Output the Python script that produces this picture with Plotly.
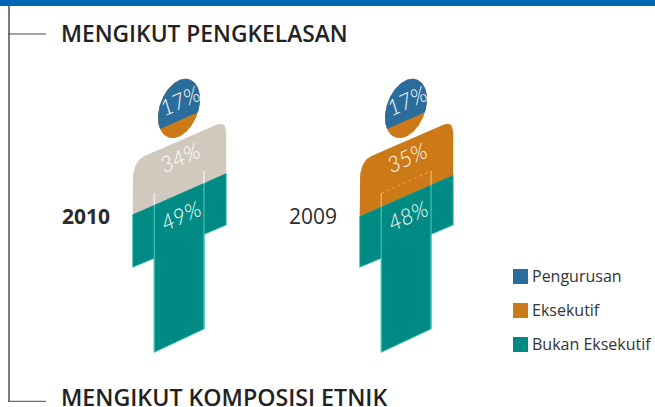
import numpy as np
import plotly.graph_objects as go

# ---- data ----
years = ["2010", "2009"]
pengurusan = [17, 17]
eksekutif = [34, 35]
bukan_eksekutif = [49, 48]
series_names = ["Pengurusan", "Eksekutif", "Bukan Eksekutif"]
titles = ["MENGIKUT PENGKELASAN", "MENGIKUT KOMPOSISI ETNIK"]

# ---- style ----
BLUE, ORANGE, TEAL, SAND = "#2a6c9c", "#cc7a17", "#008a84", "#d1c9bd"
TEAL_EDGE = "#3dbdb6"
torso_colors = [SAND, ORANGE]
seam_colors = ["#f4f1ec", "#f2b26c"]
FONT = "Open Sans"
INK = "#2b2b2b"
SLOPE = -0.44
PANEL_DX = 227.0
PX_PER_POINT = 1.8


def bezier(p0, c, p1, n=12):
    t = np.linspace(0, 1, n)
    x = (1 - t) ** 2 * p0[0] + 2 * t * (1 - t) * c[0] + t ** 2 * p1[0]
    y = (1 - t) ** 2 * p0[1] + 2 * t * (1 - t) * c[1] + t ** 2 * p1[1]
    return list(x), list(y)


def poly(x, y, fill, line=None, lw=0.0):
    return go.Scatter(x=x, y=y, mode="lines", fill="toself", fillcolor=fill,
                      line=dict(color=line or fill, width=lw), hoverinfo="skip", showlegend=False)


def seg(x, y, color, w=1.3, dash="solid"):
    return go.Scatter(x=x, y=y, mode="lines", line=dict(color=color, width=w, dash=dash),
                      hoverinfo="skip", showlegend=False)


fig = go.Figure()
annotations = []

for i, year in enumerate(years):
    dx = i * PANEL_DX
    L, R, il, ir = 132.7 + dx, 226.2 + dx, 154.3 + dx, 204.0 + dx
    split_l = 215.0 + (49 - bukan_eksekutif[i]) * PX_PER_POINT
    split_at = lambda x: split_l + SLOPE * (x - L)

    # head: sheared ellipse
    cx, cy, a, b = 179.0 + dx, 108.5, 21.0, 28.2
    t = np.linspace(0, 2 * np.pi, 160)
    ex, ey = cx + a * np.cos(t), cy + b * np.sin(t) + SLOPE * a * np.cos(t)
    fig.add_trace(poly(ex, ey, ORANGE))
    off = 12.2
    tb = np.linspace(np.pi - np.arcsin(off / b), 2 * np.pi + np.arcsin(off / b), 120)
    bx, by = cx + a * np.cos(tb), cy + b * np.sin(tb) + SLOPE * a * np.cos(tb)
    fig.add_trace(poly(bx, by, BLUE))

    # torso
    x1, y1 = bezier((L, 183), (L, 161), (145 + dx, 155.7))
    x2, y2 = bezier((217 + dx, 124.4), (R, 120.7), (R, 134))
    fig.add_trace(poly([L] + x1 + x2 + [R], [split_at(L)] + y1 + y2 + [split_at(R)], torso_colors[i]))

    # arms and legs
    fig.add_trace(poly(
        [L, R, R, ir, ir, il, il, L, L],
        [split_at(L), split_at(R), 225, 234.4, 329, 352.3, 258.3, 267.3, split_at(L)],
        TEAL, TEAL_EDGE, 0.8))
    fig.add_trace(seg([L, R], [split_at(L), split_at(R)], TEAL, 1))

    # inner seams
    fig.add_trace(seg([il, il], [193, split_at(il)], seam_colors[i]))
    fig.add_trace(seg([ir, ir], [171, split_at(ir)], seam_colors[i]))
    fig.add_trace(seg([il, il], [split_at(il), 352.3], TEAL_EDGE))
    fig.add_trace(seg([ir, ir], [split_at(ir), 329], TEAL_EDGE))
    if i == 1:
        fig.add_trace(seg([il, ir], [193.5, 171], seam_colors[i], 0.8, "dot"))

    # rotated percentage labels
    for val, yy, xo in ((pengurusan[i], 100.5, 0), (eksekutif[i], 157.5, 0), (bukan_eksekutif[i], 215.5, 1)):
        annotations.append(dict(
            x=cx + xo, y=yy, text=f"{val}%", showarrow=False, textangle=-24,
            font=dict(family="Lato", size=22, color="#ffffff", weight=300, style="italic")))

    # year labels
    fig.add_trace(go.Scatter(
        x=[62 if i == 0 else 289], y=[219], mode="text", text=[year], textposition="middle right",
        hoverinfo="skip", showlegend=False,
        textfont=dict(family=FONT, size=21, color=INK, weight=700 if i == 0 else 400)))

# frame and section titles
fig.add_trace(seg([0, 655], [3, 3], "#0065b3", 6))
fig.add_trace(seg([9, 9], [6, 401.5], "#505050", 1.5))
fig.add_trace(seg([8, 46], [34, 34], "#484848", 1))
fig.add_trace(seg([8, 46], [401.3, 401.3], "#484848", 1))
for title, yy, size in zip(titles, (36.5, 400), (22.8, 23.2)):
    fig.add_trace(go.Scatter(x=[61], y=[yy], mode="text", text=[title], textposition="middle right",
                             hoverinfo="skip", showlegend=False,
                             textfont=dict(family=FONT, size=size, color="#222222", weight=600)))

# legend
for name, col, yy in zip(series_names, (BLUE, ORANGE, TEAL), (276.5, 310.5, 344.5)):
    fig.add_trace(go.Scatter(x=[520.5], y=[yy], mode="markers", hoverinfo="skip", showlegend=False,
                             marker=dict(symbol="square", size=15, color=col, line=dict(width=0))))
    fig.add_trace(go.Scatter(x=[532], y=[yy + 1.5], mode="text", text=[name], textposition="middle right",
                             hoverinfo="skip", showlegend=False,
                             textfont=dict(family=FONT, size=16, color="#333333")))

fig.update_layout(
    width=655, height=407, margin=dict(l=0, r=0, t=0, b=0),
    paper_bgcolor="white", plot_bgcolor="white", hovermode=False,
    xaxis=dict(range=[0, 655], visible=False, fixedrange=True),
    yaxis=dict(range=[407, 0], visible=False, fixedrange=True),
    annotations=annotations,
)
fig.write_html("out.html", config=dict(displayModeBar=False),
               post_script="document.body.style.margin='0';document.documentElement.style.overflow='hidden';")
